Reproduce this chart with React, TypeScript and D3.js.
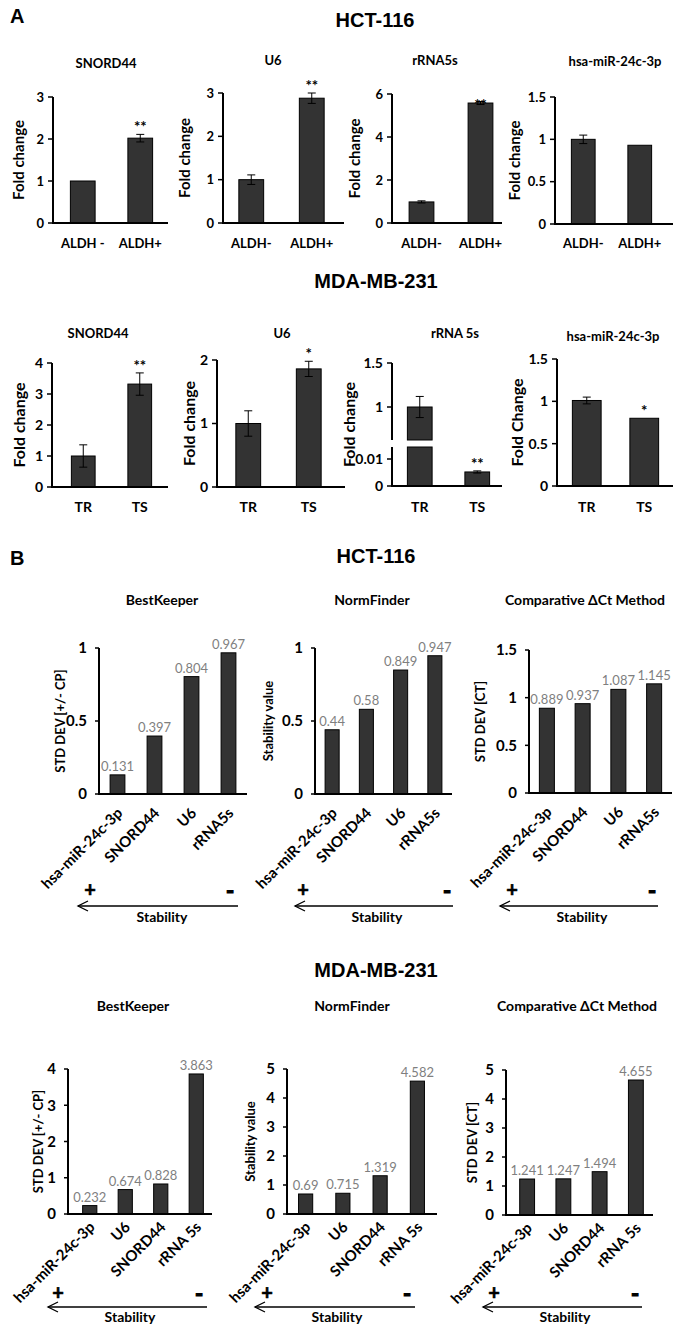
import React from "react";
import * as d3 from "d3";

const FONT = "Lato, 'Open Sans', sans-serif";
const HEAD = "'Liberation Sans', Arial, sans-serif";

// ---------- Panel A data ----------
const hctGenesA = ["SNORD44", "U6", "rRNA5s", "hsa-miR-24c-3p"];
const hctGroupsA = [["ALDH -", "ALDH+"], ["ALDH-", "ALDH+"], ["ALDH-", "ALDH+"], ["ALDH-", "ALDH+"]];
const hctFoldA = [[1, 2.02], [1, 2.88], [0.98, 5.58], [1, 0.93]];
const hctErrA = [[0, 0.09], [0.11, 0.12], [0.05, 0.07], [0.05, 0]];
const hctStarsA = [["", "**"], ["", "**"], ["", "**"], ["", ""]];
const hctTicksA = [[0, 1, 2, 3], [0, 1, 2, 3], [0, 2, 4, 6], [0, 0.5, 1, 1.5]];
const hctYLabelsA = ["Fold change", "Fold change", "Fold change", "Fold change"];

const mdaGenesA = ["SNORD44", "U6", "rRNA 5s", "hsa-miR-24c-3p"];
const mdaGroupsA = [["TR", "TS"], ["TR", "TS"], ["TR", "TS"], ["TR", "TS"]];
const mdaFoldA = [[1, 3.32], [1, 1.86], [1, 0.0052], [1.01, 0.8]];
const mdaErrA = [[0.36, 0.36], [0.2, 0.12], [0.12, 0.0004], [0.04, 0]];
const mdaStarsA = [["", "**"], ["", "*"], ["", "**"], ["", "*"]];
const mdaTicksA = [[0, 1, 2, 3, 4], [0, 1, 2], [0, 0.01, 1, 1.5], [0, 0.5, 1, 1.5]];
const mdaYLabelsA = ["Fold change", "Fold change", "Fold change", "Fold Change"];

// ---------- Panel B data ----------
const methodsB = ["BestKeeper", "NormFinder", "Comparative ΔCt Method"];
const yLabelsB = ["STD DEV [+/- CP]", "Stability value", "STD DEV [CT]"];
const hctGenesB = ["hsa-miR-24c-3p", "SNORD44", "U6", "rRNA5s"];
const hctValuesB = [
  [0.131, 0.397, 0.804, 0.967],
  [0.44, 0.58, 0.849, 0.947],
  [0.889, 0.937, 1.087, 1.145],
];
const hctTicksB = [[0, 0.5, 1], [0, 0.5, 1], [0, 0.5, 1, 1.5]];
const mdaGenesB = ["hsa-miR-24c-3p", "U6", "SNORD44", "rRNA 5s"];
const mdaValuesB = [
  [0.232, 0.674, 0.828, 3.863],
  [0.69, 0.715, 1.319, 4.582],
  [1.241, 1.247, 1.494, 4.655],
];
const mdaTicksB = [[0, 1, 2, 3, 4], [0, 1, 2, 3, 4, 5], [0, 1, 2, 3, 4, 5]];
const stabilityLabel = "Stability";

// ---------- Layout ----------
const layoutHctA = [
  { axis: [53, 168], band: [54, 169], pad: 0.57, y0: 223, yTop: 97, titleX: 106, titleY: 68, ylabX: 18, xlabY: 248 },
  { axis: [223, 344], band: [221, 342], pad: 0.59, y0: 223, yTop: 93, titleX: 273, titleY: 65, ylabX: 184, xlabY: 248 },
  { axis: [392, 502], band: [392, 510], pad: 0.58, y0: 223, yTop: 94, titleX: 435, titleY: 65, ylabX: 354, xlabY: 248, starDy: 10 },
  { axis: [555, 673], band: [555, 668], pad: 0.58, y0: 224, yTop: 97, titleX: 615, titleY: 66, ylabX: 514, xlabY: 248 },
];
const layoutMdaA = [
  { axis: [52, 168], band: [55, 168], pad: 0.58, y0: 487, yTop: 363, titleX: 98, titleY: 338, ylabX: 18, xlabY: 512 },
  { axis: [217, 345], band: [218, 339], pad: 0.59, y0: 487, yTop: 360, titleX: 282, titleY: 338, ylabX: 188, xlabY: 512 },
  {
    axis: [392, 502], band: [391, 506], pad: 0.57, y0: 486, yTop: 363, titleX: 455, titleY: 338, ylabX: 348, xlabY: 512,
    broken: { lowMax: 0.01, lowY: 459, upMin: 1, upY: 407, gapLo: 447, gapHi: 440 },
  },
  { axis: [557, 673], band: [558, 673], pad: 0.5, y0: 486, yTop: 359, titleX: 613, titleY: 341, ylabX: 516, xlabY: 512 },
];
const layoutHctB = [
  { axis: [99, 247], band: [99, 247], pad: 0.6, y0: 794, yTop: 648, titleX: 162, ylabX: 60, plusX: 90, minusX: 230, arrow: [78, 238], stabX: 162 },
  { axis: [315, 452], band: [315, 452], pad: 0.59, y0: 794, yTop: 648, titleX: 372, ylabX: 268, plusX: 303, minusX: 447, arrow: [295, 453], stabX: 377 },
  { axis: [529, 672], band: [529, 672], pad: 0.58, y0: 793, yTop: 650, titleX: 585, ylabX: 480, plusX: 512, minusX: 652, arrow: [500, 658], stabX: 582 },
];
const sectHctB = { titleY: 605, labelDY: 20, plusY: 890, arrowY: 906, stabY: 922 };
const layoutMdaB = [
  { axis: [68, 212], band: [72, 214], pad: 0.6, y0: 1214, yTop: 1069, titleX: 133, ylabX: 38, plusX: 58, minusX: 199, arrow: [48, 207], stabX: 130 },
  { axis: [287, 437], band: [287, 436], pad: 0.62, y0: 1214, yTop: 1069, titleX: 352, ylabX: 250, plusX: 267, minusX: 407, arrow: [255, 415], stabX: 337 },
  { axis: [506, 653], band: [509, 654], pad: 0.59, y0: 1215, yTop: 1070, titleX: 577, ylabX: 472, plusX: 494, minusX: 635, arrow: [483, 642], stabX: 565 },
];
const sectMdaB = { titleY: 1011, labelDY: 14, plusY: 1293, arrowY: 1307, stabY: 1322 };

const BAR_FILL = "#333333";

function PanelA({ L, title, groups, values, errors, stars, ticks, ylabel, tickSize, ylabSize, xlabSize }: any) {
  const x = d3.scaleBand<string>().domain(groups).range(L.band).paddingInner(L.pad).paddingOuter(L.pad / 2);
  const maxT = d3.max(ticks as number[]) as number;
  let y: (v: number) => number;
  let segs: [number, number][];
  const b = L.broken;
  if (b) {
    const lo = d3.scaleLinear().domain([0, b.lowMax]).range([L.y0, b.lowY]);
    const up = d3.scaleLinear().domain([b.upMin, maxT]).range([b.upY, L.yTop]);
    y = (v: number) => (v <= b.lowMax * 1.5 ? lo(v) : up(v));
    segs = [[L.y0, b.gapLo], [b.gapHi, L.yTop]];
  } else {
    const s = d3.scaleLinear().domain([0, maxT]).range([L.y0, L.yTop]);
    y = (v: number) => s(v);
    segs = [[L.y0, L.yTop]];
  }
  const bw = x.bandwidth();
  const ax = L.axis[0];
  return (
    <g>
      <text x={L.titleX} y={L.titleY} textAnchor="middle" fontWeight="bold" fontSize={13}>{title}</text>
      <text transform={`translate(${L.ylabX},${(L.y0 + L.yTop) / 2}) rotate(-90)`} textAnchor="middle" dominantBaseline="central" fontWeight="bold" fontSize={ylabSize}>{ylabel}</text>
      {groups.map((g: string, i: number) => {
        const v = values[i];
        const e = errors[i];
        const x0 = x(g) as number;
        const cx = x0 + bw / 2;
        const rects: [number, number][] = b && v > b.lowMax * 1.5 ? [[y(v), b.gapHi], [b.gapLo, L.y0]] : [[y(v), L.y0]];
        return (
          <g key={g}>
            {rects.map((r, k) => (
              <rect key={k} x={x0} y={r[0]} width={bw} height={r[1] - r[0]} fill={BAR_FILL} stroke="#000" strokeWidth={1} />
            ))}
            {e > 0 && (
              <g stroke="#000" strokeWidth={1}>
                <line x1={cx} x2={cx} y1={y(v - e)} y2={y(v + e)} />
                <line x1={cx - 4} x2={cx + 4} y1={y(v + e)} y2={y(v + e)} />
                <line x1={cx - 4} x2={cx + 4} y1={y(v - e)} y2={y(v - e)} />
              </g>
            )}
            {stars[i] && (
              <text x={cx} y={y(v + e) - 2 + (L.starDy || 0)} textAnchor="middle" fontWeight="bold" fontSize={15}>{stars[i]}</text>
            )}
            <text x={cx} y={L.xlabY} textAnchor="middle" fontWeight="bold" fontSize={xlabSize}>{g}</text>
          </g>
        );
      })}
      {segs.map((s, k) => (
        <line key={k} x1={ax} x2={ax} y1={s[0] + (k === 0 ? 1 : 0)} y2={s[1]} stroke="#000" strokeWidth={2} />
      ))}
      <line x1={ax - 1} x2={L.axis[1]} y1={L.y0} y2={L.y0} stroke="#000" strokeWidth={2} />
      {(ticks as number[]).map((t) => (
        <g key={t}>
          <line x1={ax - 5} x2={ax} y1={y(t)} y2={y(t)} stroke="#000" strokeWidth={1.5} />
          <text x={ax - 9} y={y(t)} dy="0.35em" textAnchor="end" fontWeight="bold" fontSize={tickSize}>{String(t)}</text>
        </g>
      ))}
    </g>
  );
}

function PanelB({ L, S, title, genes, values, ticks, ylabel }: any) {
  const x = d3.scaleBand<string>().domain(genes).range(L.band).paddingInner(L.pad).paddingOuter(L.pad / 2);
  const y = d3.scaleLinear().domain([0, d3.max(ticks as number[]) as number]).range([L.y0, L.yTop]);
  const bw = x.bandwidth();
  const ax = L.axis[0];
  const [a0, a1] = L.arrow;
  return (
    <g>
      <text x={L.titleX} y={S.titleY} textAnchor="middle" fontWeight="bold" fontSize={14}>{title}</text>
      <text transform={`translate(${L.ylabX},${(L.y0 + L.yTop) / 2}) rotate(-90)`} textAnchor="middle" dominantBaseline="central" fontWeight="bold" fontSize={13}>{ylabel}</text>
      {genes.map((g: string, i: number) => {
        const v = values[i];
        const x0 = x(g) as number;
        const cx = x0 + bw / 2;
        return (
          <g key={g}>
            <rect x={x0} y={y(v)} width={bw} height={L.y0 - y(v)} fill={BAR_FILL} stroke="#000" strokeWidth={1} />
            <text x={cx} y={y(v) - 4} textAnchor="middle" fill="#7f7f7f" fontSize={13}>{String(v)}</text>
            <text transform={`translate(${cx + 6},${L.y0 + S.labelDY}) rotate(-45)`} textAnchor="end" fontWeight="bold" fontSize={15}>{g}</text>
          </g>
        );
      })}
      <line x1={ax} x2={ax} y1={L.y0 + 1} y2={L.yTop} stroke="#000" strokeWidth={2} />
      <line x1={ax - 1} x2={L.axis[1]} y1={L.y0} y2={L.y0} stroke="#000" strokeWidth={2} />
      {(ticks as number[]).map((t) => (
        <g key={t}>
          <line x1={ax - 4} x2={ax} y1={y(t)} y2={y(t)} stroke="#000" strokeWidth={1.5} />
          <text x={ax - 12} y={y(t)} dy="0.35em" textAnchor="end" fontWeight="bold" fontSize={15}>{String(t)}</text>
        </g>
      ))}
      <text x={L.plusX} y={S.plusY + 7} textAnchor="middle" fontWeight="bold" fontSize={20} stroke="#000" strokeWidth={0.6}>+</text>
      <text x={L.minusX} y={S.plusY + 9} textAnchor="middle" fontWeight="bold" fontSize={22} stroke="#000" strokeWidth={1.2}>-</text>
      <g stroke="#000" strokeWidth={1.3} fill="none">
        <line x1={a0} x2={a1} y1={S.arrowY} y2={S.arrowY} />
        <polyline points={`${a0 + 10},${S.arrowY - 5} ${a0},${S.arrowY} ${a0 + 10},${S.arrowY + 5}`} />
      </g>
      <text x={L.stabX} y={S.stabY} textAnchor="middle" fontWeight="bold" fontSize={14}>{stabilityLabel}</text>
    </g>
  );
}

export default function App() {
  return (
    <svg width={685} height={1336} style={{ position: "absolute", left: 0, top: 0, display: "block" }} fontFamily={FONT}>
      <rect width={685} height={1336} fill="#fff" />
      <text x={10} y={23} fontFamily={HEAD} fontWeight="bold" fontSize={20}>A</text>
      <text x={375} y={27} textAnchor="middle" fontFamily={HEAD} fontWeight="bold" fontSize={20}>HCT-116</text>
      {hctGenesA.map((g, i) => (
        <PanelA key={"h" + i} L={layoutHctA[i]} title={g} groups={hctGroupsA[i]} values={hctFoldA[i]} errors={hctErrA[i]}
          stars={hctStarsA[i]} ticks={hctTicksA[i]} ylabel={hctYLabelsA[i]} tickSize={13} ylabSize={15} xlabSize={13} />
      ))}
      <text x={376} y={288} textAnchor="middle" fontFamily={HEAD} fontWeight="bold" fontSize={20}>MDA-MB-231</text>
      {mdaGenesA.map((g, i) => (
        <PanelA key={"m" + i} L={layoutMdaA[i]} title={g} groups={mdaGroupsA[i]} values={mdaFoldA[i]} errors={mdaErrA[i]}
          stars={mdaStarsA[i]} ticks={mdaTicksA[i]} ylabel={mdaYLabelsA[i]} tickSize={14} ylabSize={16} xlabSize={14} />
      ))}
      <text x={10} y={565} fontFamily={HEAD} fontWeight="bold" fontSize={20}>B</text>
      <text x={376} y={563} textAnchor="middle" fontFamily={HEAD} fontWeight="bold" fontSize={20}>HCT-116</text>
      {methodsB.map((m, i) => (
        <PanelB key={"hb" + i} L={layoutHctB[i]} S={sectHctB} title={m} genes={hctGenesB} values={hctValuesB[i]}
          ticks={hctTicksB[i]} ylabel={yLabelsB[i]} />
      ))}
      <text x={376} y={977} textAnchor="middle" fontFamily={HEAD} fontWeight="bold" fontSize={20}>MDA-MB-231</text>
      {methodsB.map((m, i) => (
        <PanelB key={"mb" + i} L={layoutMdaB[i]} S={sectMdaB} title={m} genes={mdaGenesB} values={mdaValuesB[i]}
          ticks={mdaTicksB[i]} ylabel={yLabelsB[i]} />
      ))}
    </svg>
  );
}
